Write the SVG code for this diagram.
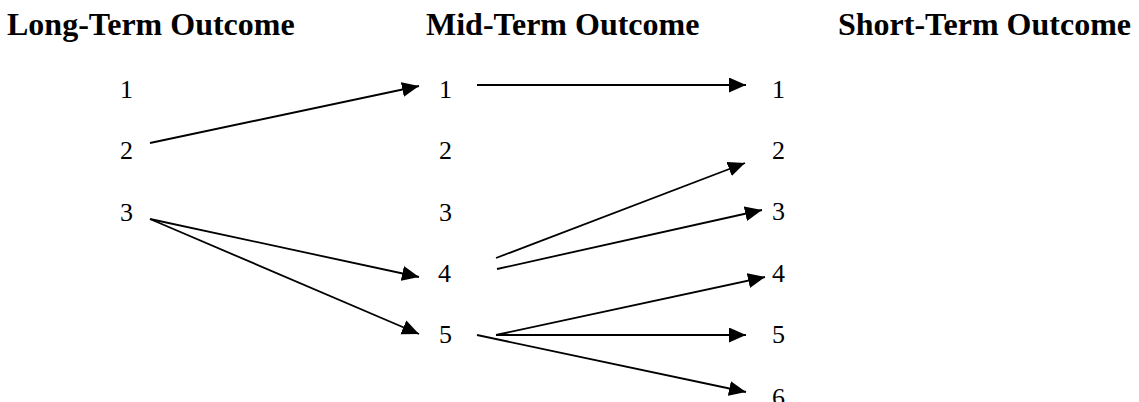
<svg xmlns="http://www.w3.org/2000/svg" width="1139" height="402" viewBox="0 0 1139 402">
<style>
.h{font-family:"Liberation Serif","Times New Roman",serif;font-weight:bold;font-size:32px;fill:#000}
.n{font-family:"Liberation Serif","Times New Roman",serif;font-size:26px;fill:#000}
.c line{stroke:#000;stroke-width:1.8;marker-end:url(#ah)}
</style>
<defs>
<marker id="ah" markerUnits="userSpaceOnUse" markerWidth="18" markerHeight="16" refX="17" refY="7.5" orient="auto">
<path d="M0,0 L17,7.5 L0,15 z" fill="#000"/>
</marker>
</defs>
<rect width="1139" height="402" fill="#fff"/>
<g id="headers">
<text class="h" x="7" y="35">Long-Term Outcome</text>
<text class="h" x="426" y="35">Mid-Term Outcome</text>
<text class="h" x="838" y="35">Short-Term Outcome</text>
</g>
<g id="long-term">
<g id="L1"><text class="n" x="120" y="98">1</text></g>
<g id="L2"><text class="n" x="120" y="159">2</text></g>
<g id="L3"><text class="n" x="120" y="221">3</text></g>
</g>
<g id="mid-term">
<g id="M1"><text class="n" x="439" y="98">1</text></g>
<g id="M2"><text class="n" x="439" y="159">2</text></g>
<g id="M3"><text class="n" x="439" y="221">3</text></g>
<g id="M4"><text class="n" x="438" y="282">4</text></g>
<g id="M5"><text class="n" x="439" y="343">5</text></g>
</g>
<g id="short-term">
<g id="S1"><text class="n" x="772" y="98">1</text></g>
<g id="S2"><text class="n" x="772" y="159">2</text></g>
<g id="S3"><text class="n" x="772" y="220">3</text></g>
<g id="S4"><text class="n" x="772" y="282">4</text></g>
<g id="S5"><text class="n" x="772" y="343">5</text></g>
<g id="S6"><text class="n" x="772" y="406">6</text></g>
</g>
<g id="connectors" class="c">
<line x1="150" y1="143" x2="419" y2="86"/>
<line x1="477" y1="85" x2="746" y2="85"/>
<line x1="150" y1="219" x2="419" y2="277"/>
<line x1="150" y1="219" x2="419" y2="334"/>
<line x1="496" y1="258" x2="745" y2="163"/>
<line x1="497" y1="269" x2="762" y2="210"/>
<line x1="496" y1="335" x2="765" y2="277"/>
<line x1="496" y1="335" x2="746" y2="335"/>
<line x1="477" y1="335" x2="746" y2="392"/>
</g>
</svg>
